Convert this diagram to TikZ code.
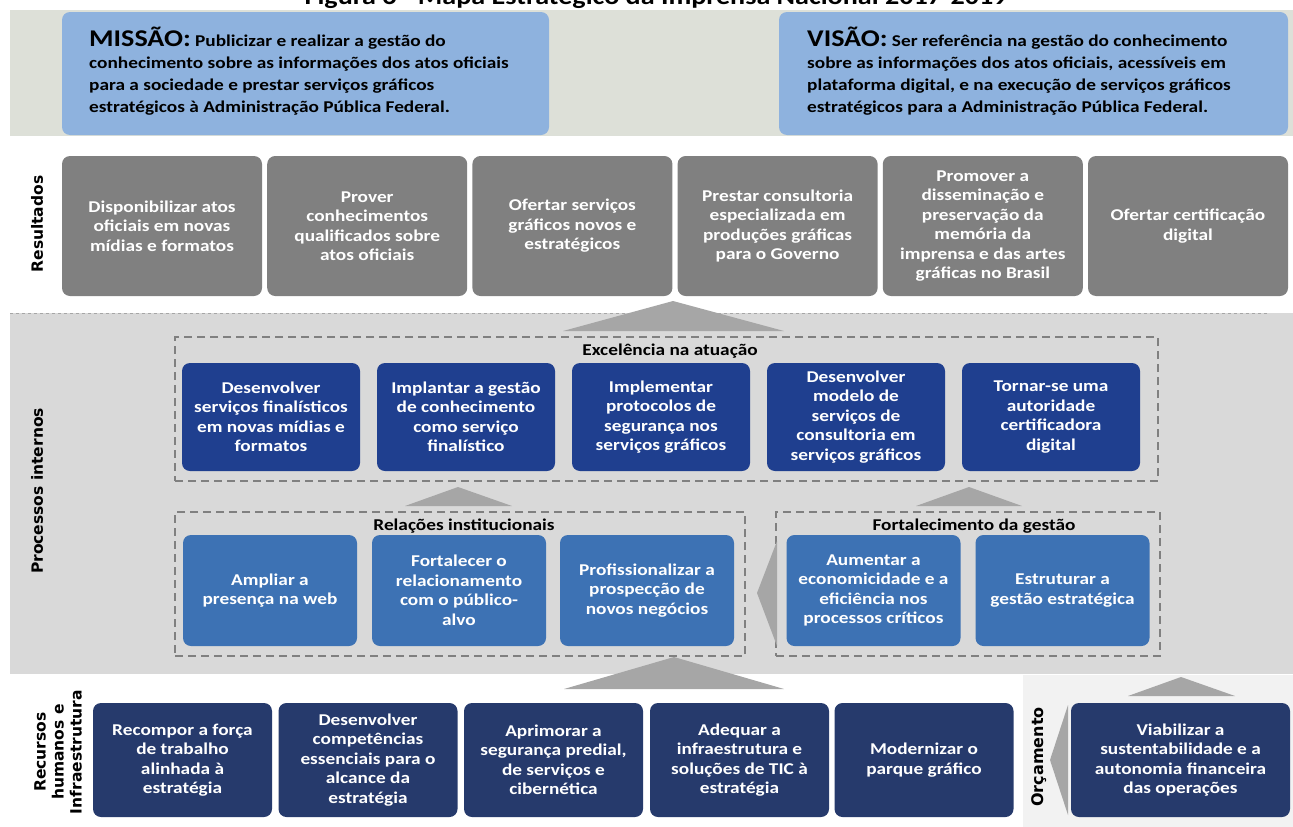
\documentclass[tikz,border=0pt]{standalone}
\usepackage{fontspec}
\setmainfont{Carlito}[FakeStretch=1.17]
\newfontfamily\sidefont{DejaVu Sans}
\usepackage{xcolor}
\usepackage{tikz}

\definecolor{topband}{HTML}{DDE0D8}
\definecolor{lightblue}{HTML}{8EB2DE}
\definecolor{resgray}{HTML}{808080}
\definecolor{procband}{HTML}{D9D9D9}
\definecolor{excblue}{HTML}{1F3F8F}
\definecolor{midblue}{HTML}{3D72B4}
\definecolor{navy}{HTML}{263A6C}
\definecolor{chevgray}{HTML}{A6A6A6}
\definecolor{budgetband}{HTML}{F2F2F2}

\begin{document}
\begin{tikzpicture}[x=1pt,y=-1pt,
    obj/.style={rounded corners=8pt,inner sep=0pt,align=center,text=white,
        font=\bfseries\fontsize{16.5}{19.5}\selectfont},
    res/.style={obj,fill=resgray,minimum width=200pt,minimum height=140pt},
    exc/.style={obj,fill=excblue,minimum width=178pt,minimum height=108pt},
    rel/.style={obj,fill=midblue,minimum width=174pt,minimum height=111pt},
    base/.style={obj,fill=navy,minimum width=179pt,minimum height=114pt},
    group/.style={draw=resgray,dashed,dash pattern=on 8pt off 5pt,line width=1.5pt,
        inner sep=0pt},
    grouplabel/.style={anchor=base,inner sep=0pt,font=\bfseries\fontsize{16.5}{19.5}\selectfont},
    side/.style={rotate=90,inner sep=0pt,align=center,
        font=\sidefont\bfseries\fontsize{15.5}{18}\selectfont},
    chev/.style={fill=chevgray}]
    \useasboundingbox (0,0) rectangle (1293,827);

    % backgrounds
    \fill[topband] (10,10) rectangle (1293,136);
    \fill[procband] (10,313) rectangle (1293,674);
    \fill[budgetband] (1023,675) rectangle (1293,827);
    \draw[gray!70,dashed,line width=0.8pt] (10,313) -- (1269,313);

    % title (cut at the top)
    \node[anchor=base,inner sep=0pt,font=\bfseries\fontsize{24}{28}\selectfont] (title) at (656,5)
        {Figura 6 - Mapa Estratégico da Imprensa Nacional 2017-2019};

    % mission and vision
    \node[fill=lightblue,rounded corners=8pt,minimum width=487pt,minimum height=123pt] (mis) at (305.5,73.5) {};
    \node[fill=lightblue,rounded corners=8pt,minimum width=509pt,minimum height=123pt] (vis) at (1033.5,73.5) {};
    \node[anchor=north west,inner sep=0pt,align=left,font=\bfseries\fontsize{16.5}{22}\selectfont] (mistxt) at (89,27)
        {{\fontsize{24}{22}\selectfont MISSÃO:} Publicizar e realizar a gestão do\\
         conhecimento sobre as informações dos atos oficiais\\
         para a sociedade e prestar serviços gráficos\\
         estratégicos à Administração Pública Federal.};
    \node[anchor=north west,inner sep=0pt,align=left,font=\bfseries\fontsize{16.5}{22}\selectfont] (vistxt) at (807,27)
        {{\fontsize{24}{22}\selectfont VISÃO:} Ser referência na gestão do conhecimento\\
         sobre as informações dos atos oficiais, acessíveis em\\
         plataforma digital, e na execução de serviços gráficos\\
         estratégicos para a Administração Pública Federal.};

    % side labels
    \node[side] (lres) at (37,224) {Resultados};
    \node[side] (lproc) at (37,491) {Processos internos};
    \node[side] (lhum) at (58,752) {Recursos\\humanos e\\Infraestrutura};
    \node[side,font=\sidefont\bfseries\fontsize{16}{17}\selectfont] (lorc) at (1039,757) {Orçamento};

    % resultados
    \node[res] (r1) at (162,226) {Disponibilizar atos\\oficiais em novas\\mídias e formatos};
    \node[res] (r2) at (367.2,226) {Prover\\conhecimentos\\qualificados sobre\\atos oficiais};
    \node[res] (r3) at (572.4,226) {Ofertar serviços\\gráficos novos e\\estratégicos};
    \node[res] (r4) at (777.6,226) {Prestar consultoria\\especializada em\\produções gráficas\\para o Governo};
    \node[res] (r5) at (982.8,226) {Promover a\\disseminação e\\preservação da\\memória da\\imprensa e das artes\\gráficas no Brasil};
    \node[res] (r6) at (1188,226) {Ofertar certificação\\digital};

    % excelencia na atuacao
    \node[group,minimum width=983pt,minimum height=144pt] (gexc) at (666.5,409) {};
    \node[grouplabel] at (670,355) {Excelência na atuação};
    \node[exc] (e1) at (271,417) {Desenvolver\\serviços finalísticos\\em novas mídias e\\formatos};
    \node[exc] (e2) at (466,417) {Implantar a gestão\\de conhecimento\\como serviço\\finalístico};
    \node[exc] (e3) at (661,417) {Implementar\\protocolos de\\segurança nos\\serviços gráficos};
    \node[exc] (e4) at (856,417) {Desenvolver\\modelo de\\serviços de\\consultoria em\\serviços gráficos};
    \node[exc] (e5) at (1051,417) {Tornar-se uma\\autoridade\\certificadora\\digital};

    % relacoes institucionais
    \node[group,minimum width=570pt,minimum height=144pt] (grel) at (460,584) {};
    \node[grouplabel] at (464,530) {Relações institucionais};
    \node[rel] (p1) at (270,590.5) {Ampliar a\\presença na web};
    \node[rel] (p2) at (459,590.5) {Fortalecer o\\relacionamento\\com o público-\\alvo};
    \node[rel] (p3) at (647,590.5) {Profissionalizar a\\prospecção de\\novos negócios};

    % fortalecimento da gestao
    \node[group,minimum width=384pt,minimum height=144pt] (gfort) at (968,584) {};
    \node[grouplabel] at (974,530) {Fortalecimento da gestão};
    \node[rel] (f1) at (873.5,590.5) {Aumentar a\\economicidade e a\\eficiência nos\\processos críticos};
    \node[rel] (f2) at (1062.5,590.5) {Estruturar a\\gestão estratégica};

    % recursos humanos e infraestrutura, orcamento
    \node[base] (b1) at (182.5,760) {Recompor a força\\de trabalho\\alinhada à\\estratégia};
    \node[base] (b2) at (368,760) {Desenvolver\\competências\\essenciais para o\\alcance da\\estratégia};
    \node[base] (b3) at (553.5,760) {Aprimorar a\\segurança predial,\\de serviços e\\cibernética};
    \node[base] (b4) at (739.5,760) {Adequar a\\infraestrutura e\\soluções de TIC à\\estratégia};
    \node[base] (b5) at (924,760) {Modernizar o\\parque gráfico};
    \node[base,minimum width=219pt] (b6) at (1180.5,760) {Viabilizar a\\sustentabilidade e a\\autonomia financeira\\das operações};

    % chevrons
    \fill[chev] (563,331) -- (673,301) -- (784,331) -- cycle;
    \fill[chev] (405,506) -- (458,487) -- (512,506) -- cycle;
    \fill[chev] (916,506) -- (969,487) -- (1022,506) -- cycle;
    \fill[chev] (777,541) -- (757,593) -- (777,646) -- cycle;
    \fill[chev] (564,689) -- (674,657) -- (784,689) -- cycle;
    \fill[chev] (1128,696) -- (1181,677) -- (1235,696) -- cycle;
    \fill[chev] (1068,705) -- (1050,760) -- (1068,815) -- cycle;
\end{tikzpicture}
\end{document}
